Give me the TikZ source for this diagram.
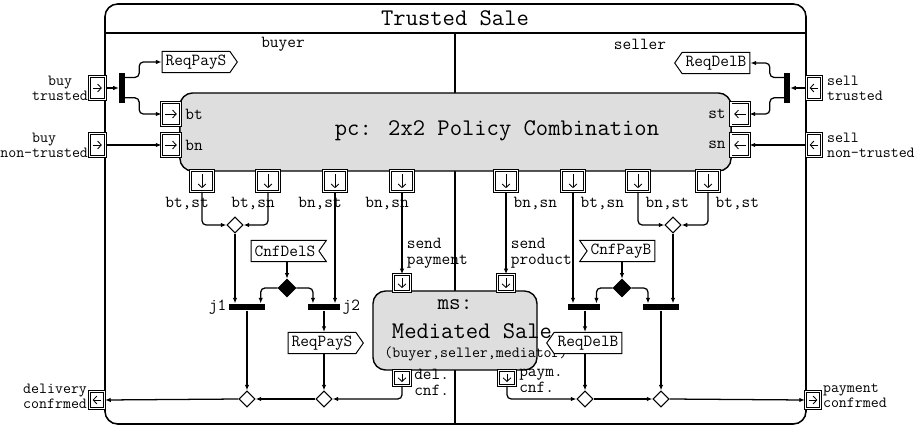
\documentclass[tikz,border=0pt]{standalone}
\usetikzlibrary{arrows.meta,shapes.geometric,shapes.symbols}
\definecolor{ts-grey}{RGB}{222,222,222}

\tikzset{
  lbl/.style={font=\ttfamily\fontsize{12}{11}\selectfont, inner sep=1pt},
  lblsm/.style={font=\ttfamily\fontsize{11}{10.5}\selectfont, inner sep=1pt},
  big/.style={font=\ttfamily\fontsize{17}{19}\selectfont, inner sep=1pt},
  action/.style={draw, fill=ts-grey, rounded corners=9pt, line width=1pt},
  portbox/.style={draw, double, double distance=0.9pt, line width=0.55pt, fill=white,
    inner sep=0pt, minimum width=12pt, minimum height=12pt},
  glyph/.style={line width=0.6pt, -{Straight Barb[length=2.6pt,width=5.6pt]}},
  port r/.style={portbox, path picture={\draw[glyph] ([xshift=2.4pt]path picture bounding box.west) -- ([xshift=-2.4pt]path picture bounding box.east);}},
  port l/.style={portbox, path picture={\draw[glyph] ([xshift=-2.4pt]path picture bounding box.east) -- ([xshift=2.4pt]path picture bounding box.west);}},
  port d/.style={portbox, path picture={\draw[glyph] ([yshift=-2.4pt]path picture bounding box.north) -- ([yshift=2.4pt]path picture bounding box.south);}},
  sig/.style={signal, draw, fill=white, line width=0.7pt, lbl, inner xsep=2.5pt, inner ysep=2pt,
    minimum height=15pt, signal pointer angle=110},
  merge/.style={diamond, draw, fill=white, line width=0.75pt, inner sep=0pt, minimum size=11.5pt},
  decide/.style={merge, fill=black, minimum size=12.5pt},
  joinbar/.style={fill=black, inner sep=0pt, minimum width=24pt, minimum height=4.2pt},
  forkbar/.style={fill=black, inner sep=0pt, minimum width=3.6pt, minimum height=21pt},
}

\begin{document}
\begin{tikzpicture}[x=0.025cm, y=-0.025cm, line width=0.9pt, >={Latex[length=4pt,width=3.2pt]}]
\useasboundingbox (0,0) rectangle (924,427);
% activity frame with its two partitions
\draw[line width=1.1pt, rounded corners=9pt] (105,4) rectangle (806,424);
\draw (105,33) -- (806,33);
\draw (455,33) -- (455,424);
\node[big] (title) at (455,18) {Trusted Sale};
\node[lbl] (buyer) at (283,44) {buyer};
\node[lbl] (seller) at (640,44) {seller};

\node[action, minimum width=13.775cm, minimum height=1.95cm] (pc) at (455.5,132) {};
\node[big] (pctext) at (497,131) {pc: 2x2 Policy Combination};
\node[action, minimum width=4.1cm, minimum height=1.975cm] (ms) at (455,330.5) {};
\node[font=\ttfamily\fontsize{16}{18}\selectfont] (msA) at (455,305) {ms:};
\node[big] (msB) at (472,331) {Mediated Sale};
\node[lblsm] (msC) at (476,354) {(buyer,seller,mediator)};

% outer parameter labels
\node[lblsm, align=center, anchor=east] at (90,88) {buy\\trusted};
\node[lblsm, align=center, anchor=east] at (90,145) {buy\\non-trusted};
\node[lblsm, align=left, anchor=west] at (825,88) {sell\\trusted};
\node[lblsm, align=left, anchor=west] at (825,145) {sell\\non-trusted};
\node[lblsm, align=center, anchor=east] at (89,396) {delivery\\confrmed};
\node[lblsm, align=left, anchor=west] at (821,396) {payment\\confrmed};

% parameter nodes on the frame
\node[port r, minimum width=11pt, minimum height=16pt] (inBT) at (97.5,88) {};
\node[port r, minimum width=11pt, minimum height=16pt] (inBN) at (97.5,145) {};
\node[port l, minimum width=11pt, minimum height=16pt] (inST) at (814,88) {};
\node[port l, minimum width=11pt, minimum height=16pt] (inSN) at (814,145) {};
\node[port l, minimum width=11pt, minimum height=12.5pt] (outDel) at (97,400) {};
\node[port r, minimum width=11pt, minimum height=12.5pt] (outPay) at (813,400) {};

% pins of pc
\node[port r, minimum width=13pt, minimum height=16pt] (pBT) at (171,114) {};
\node[port r, minimum width=13pt, minimum height=16pt] (pBN) at (171,145) {};
\node[port l, minimum width=13pt, minimum height=16pt] (pST) at (740,114) {};
\node[port l, minimum width=13pt, minimum height=16pt] (pSN) at (740,145) {};
\node[lbl, anchor=west] at ([xshift=2pt]pBT.east) {bt};
\node[lbl, anchor=west] at ([xshift=2pt]pBN.east) {bn};
\node[lbl, anchor=east] at ([xshift=-2pt]pST.west) {st};
\node[lbl, anchor=east] at ([xshift=-2pt]pSN.west) {sn};

\node[port d, minimum width=16pt, minimum height=15pt] (oA) at (202,181) {};
\node[port d, minimum width=16pt, minimum height=15pt] (oB) at (268,181) {};
\node[port d, minimum width=16pt, minimum height=15pt] (oC) at (335,181) {};
\node[port d, minimum width=16pt, minimum height=15pt] (oD) at (402,181) {};
\node[port d, minimum width=16pt, minimum height=15pt] (oE) at (506,181) {};
\node[port d, minimum width=16pt, minimum height=15pt] (oF) at (573,181) {};
\node[port d, minimum width=16pt, minimum height=15pt] (oG) at (638,181) {};
\node[port d, minimum width=16pt, minimum height=15pt] (oH) at (708,181) {};
\node[lbl, anchor=north east] at ([xshift=-2pt,yshift=-2pt]oA.south east) {bt,st};
\node[lbl, anchor=north east] at ([xshift=-2pt,yshift=-2pt]oB.south east) {bt,sn};
\node[lbl, anchor=north east] at ([xshift=-2pt,yshift=-2pt]oC.south east) {bn,st};
\node[lbl, anchor=north east] at ([xshift=-2pt,yshift=-2pt]oD.south east) {bn,sn};
\node[lbl, anchor=north west] at ([xshift=4pt,yshift=-2pt]oE.south) {bn,sn};
\node[lbl, anchor=north west] at ([xshift=4pt,yshift=-2pt]oF.south) {bt,sn};
\node[lbl, anchor=north west] at ([xshift=4pt,yshift=-2pt]oG.south) {bn,st};
\node[lbl, anchor=north west] at ([xshift=4pt,yshift=-2pt]oH.south) {bt,st};

% pins of ms
\node[port d] (sp) at (402,283) {};
\node[port d] (sq) at (506,283) {};
\node[port d, minimum height=10.5pt] (dc) at (402,378) {};
\node[port d, minimum height=10.5pt] (pq) at (507,378) {};
\node[lbl, align=left, anchor=south west] at ([xshift=2pt,yshift=3pt]sp.north) {send\\payment};
\node[lbl, align=left, anchor=south west] at ([xshift=2pt,yshift=3pt]sq.north) {send\\product};
\node[lbl, align=left, anchor=north west] at ([xshift=1pt,yshift=2pt]dc.north east) {del.\\cnf.};
\node[lbl, align=left, anchor=north west] at ([xshift=1pt,yshift=2pt]pq.north east) {paym.\\cnf.};

% control nodes
\node[forkbar] (fA) at (122,88) {};
\node[forkbar] (fB) at (787,88) {};
\node[sig, signal to=east] (rqA) at (196,62) {ReqPayS};
\node[sig, signal to=west] (rqB) at (716,63) {ReqDelB};
\node[merge] (dA) at (235,225) {};
\node[merge] (dB) at (673,225) {};
\node[sig, signal from=east, signal to=nowhere] (cdS) at (285,251) {CnfDelS};
\node[sig, signal from=west, signal to=nowhere] (cpB) at (621,251) {CnfPayB};
\node[decide] (ddA) at (287,288) {};
\node[decide] (ddB) at (622,288) {};
\node[joinbar, minimum width=25.6pt] (jA) at (247,307) {};
\node[joinbar, minimum width=22.8pt] (jB) at (324,307) {};
\node[joinbar, minimum width=22.8pt] (jC) at (584,307) {};
\node[joinbar, minimum width=25.6pt] (jD) at (661,307) {};
\node[lbl, anchor=east] at (jA.west) {j1};
\node[lbl, anchor=west] at (jB.east) {j2};
\node[sig, signal to=east] (rqC) at (322,343) {ReqPayS};
\node[sig, signal to=west] (rqD) at (588,343) {ReqDelB};
\node[merge] (mA) at (247,399) {};
\node[merge] (mB) at (324,399) {};
\node[merge] (mC) at (585,399) {};
\node[merge] (mD) at (661,399) {};

% flows, buyer side
\draw[->] (inBT) -- (fA);
\draw[->, rounded corners=3pt] ([yshift=7.5pt]fA.east) -- ++(14,0) |- (rqA.west);
\draw[->, rounded corners=3pt] ([yshift=-7pt]fA.east) -- ++(14,0) |- (pBT.west);
\draw[->] (inBN) -- (pBN);
\draw[->, rounded corners=3pt] (oA.south) |- (dA.west);
\draw[->, rounded corners=3pt] (oB.south) |- (dA.east);
\draw[->] (dA.south) -- (dA.south |- jA.north);
\draw[->] (oC.south) -- (oC.south |- jB.north);
\draw[->] (oD.south) -- (sp.north);
\draw[->] (cdS.south -| ddA) -- (ddA.north);
\draw[->, rounded corners=3pt] (ddA.west) -| ([xshift=-3.5pt]jA.north east);
\draw[->, rounded corners=3pt] (ddA.east) -| ([xshift=4pt]jB.north west);
\draw[->] (jA.south) -- (mA.north);
\draw[->] (jB.south) -- (jB.south |- rqC.north);
\draw[->] (rqC.south -| mB) -- (mB.north);
\draw[->, rounded corners=3pt] (dc.south) |- (mB.east);
\draw[->] (mB.west) -- (mA.east);
\draw[->] (mA.west) -- (outDel.east);

% flows, seller side
\draw[->] (inST) -- (fB);
\draw[->, rounded corners=3pt] ([yshift=7.5pt]fB.west) -- ++(-14,0) |- (rqB.east);
\draw[->, rounded corners=3pt] ([yshift=-7pt]fB.west) -- ++(-14,0) |- (pST.east);
\draw[->] (inSN) -- (pSN);
\draw[->, rounded corners=3pt] (oG.south) |- (dB.west);
\draw[->, rounded corners=3pt] (oH.south) |- (dB.east);
\draw[->] (dB.south) -- (dB.south |- jD.north);
\draw[->] (oF.south) -- (oF.south |- jC.north);
\draw[->] (oE.south) -- (sq.north);
\draw[->] (cpB.south -| ddB) -- (ddB.north);
\draw[->, rounded corners=3pt] (ddB.west) -| ([xshift=-3pt]jC.north east);
\draw[->, rounded corners=3pt] (ddB.east) -| ([xshift=4pt]jD.north west);
\draw[->] (jC.south -| mC) -- (mC |- rqD.north);
\draw[->] (rqD.south -| mC) -- (mC.north);
\draw[->] (jD.south) -- (mD.north);
\draw[->, rounded corners=3pt] (pq.south) |- (mC.west);
\draw[->] (mC.east) -- (mD.west);
\draw[->] (mD.east) -- (outPay.west);
\end{tikzpicture}
\end{document}
